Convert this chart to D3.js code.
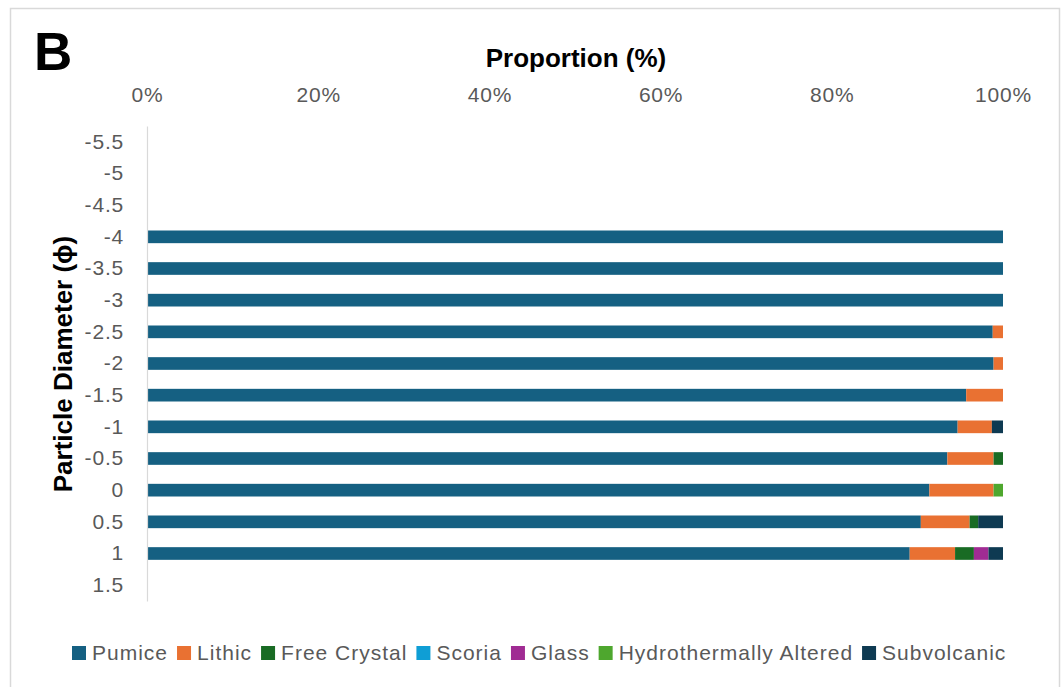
<!DOCTYPE html>
<html>
<head>
<meta charset="utf-8">
<script src="https://cdn.jsdelivr.net/npm/d3@7"></script>
<style>
  body { margin: 0; background: #fff; }
  text { font-family: "Liberation Sans", Arial, sans-serif; }
</style>
</head>
<body>
<div id="chart"></div>
<script>
// categories (particle diameter, phi)
const diameters = ["-5.5", "-5", "-4.5", "-4", "-3.5", "-3", "-2.5", "-2", "-1.5", "-1", "-0.5", "0", "0.5", "1", "1.5"];
const components = ["Pumice", "Lithic", "Free Crystal", "Scoria", "Glass", "Hydrothermally Altered", "Subvolcanic"];
const colors = ["#156082", "#e97132", "#196b24", "#0f9ed5", "#a02b93", "#4ea72e", "#0e3a52"];

// series values (%), one entry per diameter
const pumice       = [0, 0, 0, 100, 100, 100, 98.8, 98.9, 95.7, 94.7, 93.5, 91.4, 90.4, 89.1, 0];
const lithic       = [0, 0, 0, 0, 0, 0, 1.2, 1.1, 4.3, 4.0, 5.4, 7.5, 5.7, 5.3, 0];
const freeCrystal  = [0, 0, 0, 0, 0, 0, 0, 0, 0, 0, 1.1, 0, 1.0, 2.2, 0];
const scoria       = [0, 0, 0, 0, 0, 0, 0, 0, 0, 0, 0, 0, 0, 0, 0];
const glass        = [0, 0, 0, 0, 0, 0, 0, 0, 0, 0, 0, 0, 0, 1.7, 0];
const hydroAltered = [0, 0, 0, 0, 0, 0, 0, 0, 0, 0, 0, 1.1, 0, 0, 0];
const subvolcanic  = [0, 0, 0, 0, 0, 0, 0, 0, 0, 1.3, 0, 0, 2.9, 1.7, 0];
const xTicks = [0, 20, 40, 60, 80, 100];

const series = [pumice, lithic, freeCrystal, scoria, glass, hydroAltered, subvolcanic];
const rows = diameters.map((d, i) => {
  const r = { diameter: d };
  components.forEach((c, k) => r[c] = series[k][i]);
  return r;
});

const W = 1061, H = 687;
const margin = { top: 126, left: 147, right: 58, bottom: 86 };
const width = W - margin.left - margin.right;
const height = H - margin.top - margin.bottom;

const svgRoot = d3.select("#chart").append("svg")
  .attr("width", W)
  .attr("height", H);

// outer frame
svgRoot.append("rect")
  .attr("x", 10.5).attr("y", 8.5)
  .attr("width", 1049).attr("height", 700)
  .attr("fill", "none")
  .attr("stroke", "#d9d9d9")
  .attr("stroke-width", 1.5);

svgRoot.append("text")
  .attr("x", 34).attr("y", 70)
  .style("font-size", "53px")
  .style("font-weight", "bold")
  .attr("fill", "#000")
  .text("B");

const svg = svgRoot.append("g")
  .attr("transform", `translate(${margin.left},${margin.top})`);

const xScale = d3.scaleLinear().domain([0, 100]).range([0, width]);
const yScale = d3.scaleBand().domain(diameters).range([0, height]).paddingInner(0.6).paddingOuter(0.3);

const stacked = d3.stack().keys(components)(rows);

svg.selectAll(".layer")
  .data(stacked)
  .enter().append("g")
  .attr("class", "layer")
  .attr("fill", (d, i) => colors[i])
  .selectAll("rect")
  .data(d => d)
  .enter().append("rect")
  .attr("x", d => xScale(d[0]))
  .attr("y", d => yScale(d.data.diameter))
  .attr("width", d => Math.max(0, xScale(d[1]) - xScale(d[0])))
  .attr("height", yScale.bandwidth());

// x axis on top
const xAxis = svg.append("g")
  .call(d3.axisTop(xScale).tickValues(xTicks).tickFormat(d => d + "%").tickSize(0).tickPadding(24));
xAxis.select(".domain").remove();
xAxis.selectAll("text")
  .style("font-size", "21px")
  .style("letter-spacing", "0.8px")
  .attr("fill", "#595959");

// y axis
const yAxis = svg.append("g")
  .call(d3.axisLeft(yScale).tickSize(0).tickPadding(23));
yAxis.select(".domain").attr("stroke", "#d9d9d9").attr("stroke-width", 1.2);
yAxis.selectAll("text")
  .style("font-size", "21px")
  .style("letter-spacing", "0.8px")
  .attr("fill", "#595959");

// axis titles
svgRoot.append("text")
  .attr("x", 576).attr("y", 67)
  .attr("text-anchor", "middle")
  .style("font-size", "26px")
  .style("font-weight", "bold")
  .attr("fill", "#000")
  .text("Proportion (%)");

svgRoot.append("text")
  .attr("transform", "translate(72,364) rotate(-90)")
  .attr("text-anchor", "middle")
  .style("font-size", "26px")
  .style("font-weight", "bold")
  .attr("fill", "#000")
  .text("Particle Diameter (\u03d5)");

// legend
const legend = svgRoot.append("g").attr("transform", "translate(72,660)");
let lx = 0;
components.forEach((c, i) => {
  const g = legend.append("g").attr("transform", `translate(${lx},0)`);
  g.append("rect").attr("x", 0).attr("y", -14).attr("width", 14).attr("height", 14).attr("fill", colors[i]);
  const t = g.append("text")
    .attr("x", 20).attr("y", 0)
    .style("font-size", "21px")
    .style("letter-spacing", "1px")
    .attr("fill", "#595959")
    .text(c);
  lx += 20 + t.node().getComputedTextLength() + 9;
});
</script>
</body>
</html>
